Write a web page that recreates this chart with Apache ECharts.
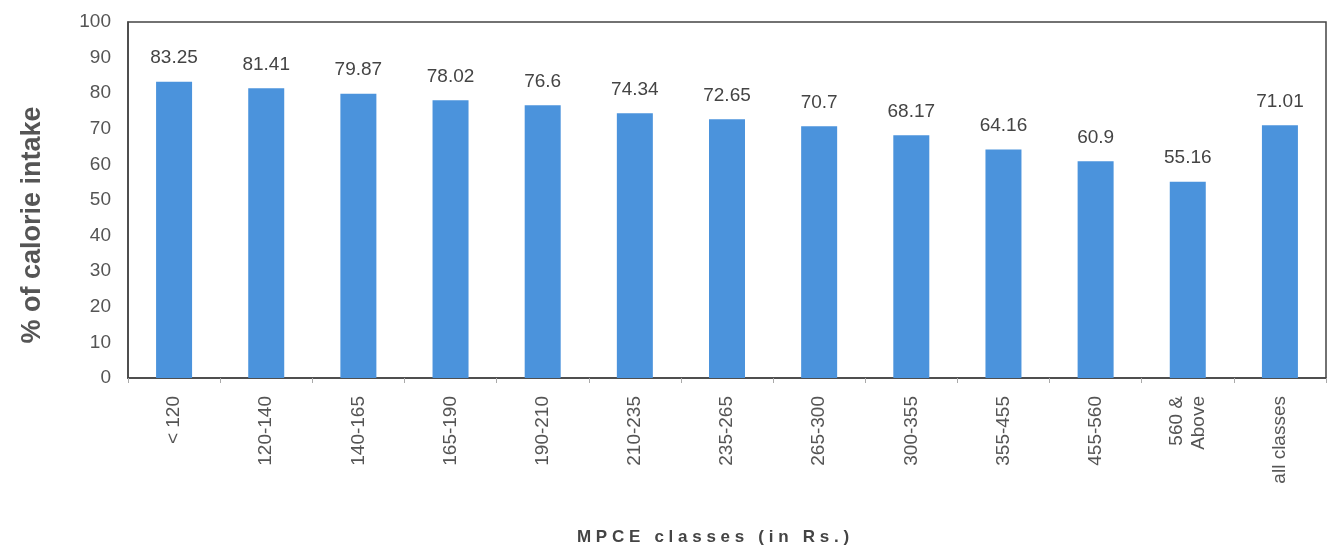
<!DOCTYPE html>
<html>
<head>
<meta charset="utf-8">
<script src="https://cdn.jsdelivr.net/npm/echarts@6/dist/echarts.min.js"></script>
<style>
  html, body { margin: 0; padding: 0; background: #fff; }
  #chart { width: 1333px; height: 551px; }
</style>
</head>
<body>
<div id="chart"></div>
<script>
const categories = ['< 120', '120-140', '140-165', '165-190', '190-210', '210-235', '235-265',
  '265-300', '300-355', '355-455', '455-560', '560 &\nAbove', 'all classes']
const calorieShare = [83.25, 81.41, 79.87, 78.02, 76.6, 74.34, 72.65, 70.7, 68.17, 64.16, 60.9, 55.16, 71.01]
const labelText = ['83.25', '81.41', '79.87', '78.02', '76.6', '74.34', '72.65', '70.7', '68.17', '64.16', '60.9', '55.16', '71.01']

const font = 'Liberation Sans, Arial, sans-serif'

const chart = echarts.init(document.getElementById('chart'))
chart.setOption({
  animation: false,
  backgroundColor: '#fff',
  grid: {
    left: 128, right: 7, top: 22, bottom: 173,
    show: true, borderColor: '#444', borderWidth: 1.5, backgroundColor: 'transparent'
  },
  xAxis: {
    type: 'category',
    data: categories,
    name: 'M P C E   c l a s s e s   ( i n   R s . )',
    nameLocation: 'middle',
    nameGap: 151,
    nameTextStyle: { fontFamily: font, fontSize: 17, fontWeight: 'bold', color: '#444', padding: [0, 28, 0, 0] },
    axisLine: { lineStyle: { color: '#444', width: 1.5 } },
    axisTick: { show: true, length: 5, lineStyle: { color: '#aaa' } },
    axisLabel: {
      rotate: 90, interval: 0, margin: 18,
      fontFamily: font, fontSize: 19, color: '#555', lineHeight: 22
    }
  },
  yAxis: {
    type: 'value',
    min: 0, max: 100, interval: 10,
    name: '% of calorie intake',
    nameLocation: 'middle',
    nameGap: 82,
    nameRotate: 90,
    nameTextStyle: { fontFamily: font, fontSize: 27, fontWeight: 'bold', color: '#555', padding: [0, 50, 0, 0] },
    axisLine: { show: true, lineStyle: { color: '#444', width: 1.5 } },
    axisTick: { show: false },
    splitLine: { show: false },
    axisLabel: { fontFamily: font, fontSize: 19, color: '#555', margin: 17 }
  },
  series: [{
    type: 'bar',
    data: calorieShare,
    barWidth: 36,
    itemStyle: { color: '#4b93dc' },
    label: {
      show: true,
      position: 'top',
      distance: 14,
      fontFamily: font,
      fontSize: 19,
      color: '#444',
      formatter: p => labelText[p.dataIndex]
    }
  }]
})
</script>
</body>
</html>
